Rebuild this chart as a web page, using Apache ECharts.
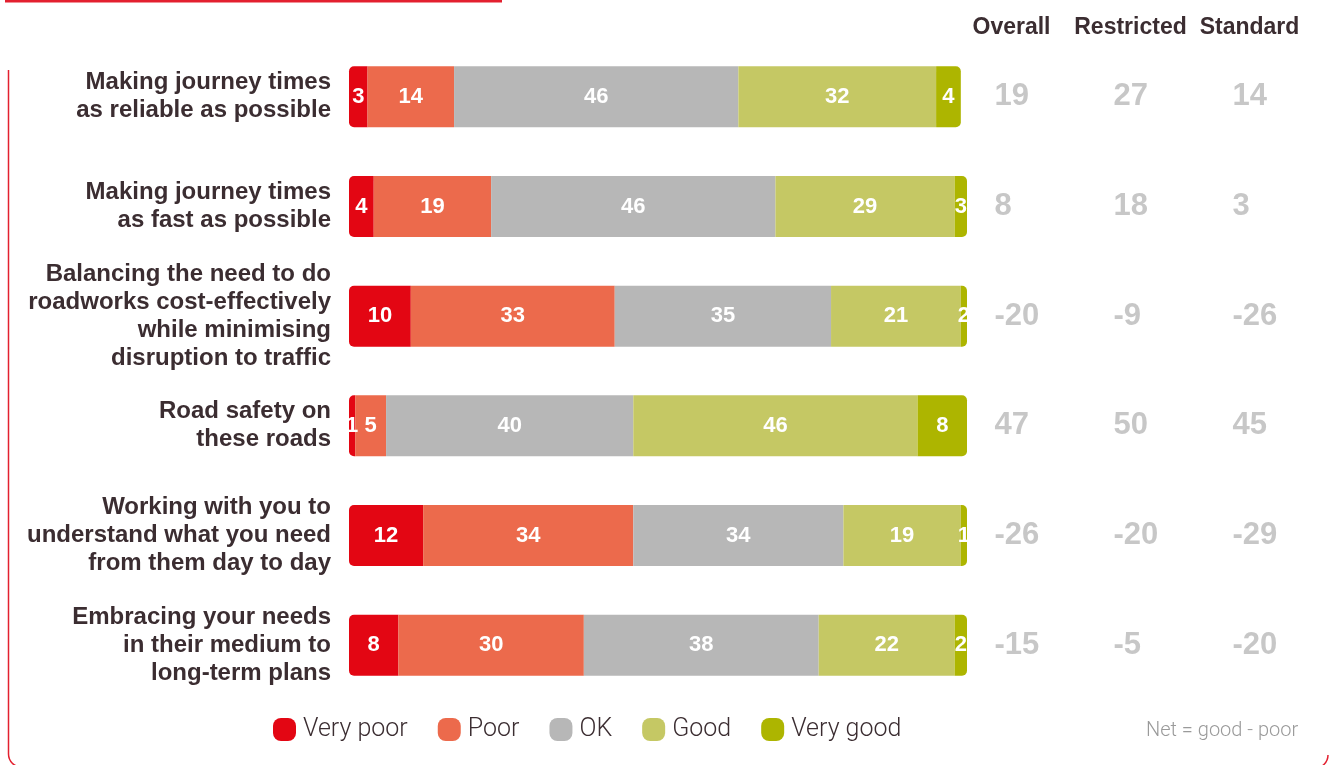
<!DOCTYPE html>
<html>
<head>
<meta charset="utf-8">
<script src="https://cdn.jsdelivr.net/npm/echarts@6/dist/echarts.min.js"></script>
<style>
  html, body { margin: 0; padding: 0; background: #ffffff; }
  #chart { width: 1330px; height: 765px; }
</style>
</head>
<body>
<div id="chart"></div>
<script>
// Survey statements (top to bottom)
const categories = [
  'Making journey times\nas reliable as possible',
  'Making journey times\nas fast as possible',
  'Balancing the need to do\nroadworks cost-effectively\nwhile minimising\ndisruption to traffic',
  'Road safety on\nthese roads',
  'Working with you to\nunderstand what you need\nfrom them day to day',
  'Embracing your needs\nin their medium to\nlong-term plans'
];

// Rating shares (%) per statement
const veryPoor = [3, 4, 10, 1, 12, 8];
const poor     = [14, 19, 33, 5, 34, 30];
const ok       = [46, 46, 35, 40, 34, 38];
const good     = [32, 29, 21, 46, 19, 22];
const veryGood = [4, 3, 2, 8, 1, 2];

// Net scores (good - poor) by user group
const netGroups   = ['Overall', 'Restricted', 'Standard'];
const netOverall    = [19, 8, -20, 47, -26, -15];
const netRestricted = [27, 18, -9, 50, -20, -5];
const netStandard   = [14, 3, -26, 45, -29, -20];

const ratingNames  = ['Very poor', 'Poor', 'OK', 'Good', 'Very good'];
const ratingData   = [veryPoor, poor, ok, good, veryGood];
const ratingColors = ['#e30613', '#ec6a4c', '#b7b7b7', '#c5c864', '#adb500'];

const DARK = '#3b2d31';
const FRAME = '#e3202f';
const BOLD = '"Liberation Sans", Arial, Helvetica, sans-serif';
const LIGHT = 'Roboto, "Liberation Sans", sans-serif';

const barSeries = ratingNames.map((name, i) => ({
  name,
  type: 'bar',
  stack: 'rating',
  xAxisIndex: 0,
  yAxisIndex: 0,
  barWidth: 61,
  itemStyle: {
    color: ratingColors[i],
    borderRadius: i === 0 ? [5, 0, 0, 5] : (i === ratingNames.length - 1 ? [0, 5, 5, 0] : 0)
  },
  label: {
    show: true,
    position: 'inside',
    color: '#ffffff',
    fontFamily: BOLD,
    fontWeight: 'bold',
    fontSize: 22
  },
  emphasis: { disabled: true },
  data: ratingData[i]
}));

const netData = [netOverall, netRestricted, netStandard];
const netSeries = netGroups.map((g, gi) => ({
  name: 'net-' + g,
  type: 'scatter',
  xAxisIndex: 1,
  yAxisIndex: 1,
  symbolSize: 0,
  silent: true,
  label: {
    show: true,
    position: 'inside',
    align: 'left',
    offset: [-17, 0],
    color: '#b9b9b9',
    fontFamily: BOLD,
    fontWeight: 'bold',
    fontSize: 31,
    formatter: p => String(p.value[2])
  },
  data: categories.map((c, ri) => [g, c, netData[gi][ri]])
}));

const legendIcon = 'path://M8,0 H15 A8,8 0 0 1 23,8 V15 A8,8 0 0 1 15,23 H8 A8,8 0 0 1 0,15 V8 A8,8 0 0 1 8,0 Z';

const option = {
  backgroundColor: '#ffffff',
  animation: false,
  grid: [
    { left: 349, width: 618, top: 42, height: 658 },
    { left: 952, width: 357, top: 42, height: 658 }
  ],
  xAxis: [
    { type: 'value', gridIndex: 0, min: 0, max: 100, show: false },
    {
      type: 'category', gridIndex: 1, position: 'top', data: netGroups,
      axisLine: { show: false }, axisTick: { show: false }, splitLine: { show: false },
      axisLabel: { interval: 0, color: DARK, fontFamily: BOLD, fontWeight: 'bold', fontSize: 23, margin: 3 }
    }
  ],
  yAxis: [
    {
      type: 'category', gridIndex: 0, inverse: true, data: categories,
      axisLine: { show: false }, axisTick: { show: false },
      axisLabel: {
        interval: 0,
        color: DARK, fontFamily: BOLD, fontWeight: 'bold', fontSize: 24,
        lineHeight: 28, align: 'right', margin: 18
      }
    },
    { type: 'category', gridIndex: 1, inverse: true, data: categories, show: false }
  ],
  legend: {
    data: ratingNames,
    left: 268,
    top: 712,
    icon: legendIcon,
    itemWidth: 23,
    itemHeight: 23,
    itemGap: 30,
    selectedMode: false,
    textStyle: { color: DARK, fontFamily: LIGHT, fontWeight: 300, fontSize: 25, padding: [0, 0, 0, 2] }
  },
  graphic: [
    { type: 'rect', shape: { x: 5, y: 0, width: 497, height: 2.5 }, style: { fill: FRAME }, silent: true },
    { type: 'line', silent: true, shape: { x1: 8.5, y1: 70, x2: 8.5, y2: 754 }, style: { stroke: FRAME, lineWidth: 1.5 } },
    { type: 'arc', silent: true, shape: { cx: 21.5, cy: 754, r: 13, startAngle: Math.PI / 2, endAngle: Math.PI, clockwise: true }, style: { stroke: FRAME, lineWidth: 1.5, fill: 'none' } },
    { type: 'arc', silent: true, shape: { cx: 1315, cy: 755, r: 13, startAngle: 0, endAngle: Math.PI / 2, clockwise: true }, style: { stroke: FRAME, lineWidth: 1.5, fill: 'none' } },
    {
      type: 'text', left: 1146, top: 721, silent: true,
      style: { text: 'Net = good - poor', fill: '#9a9a9a', font: '300 20px ' + LIGHT }
    }
  ],
  series: [...barSeries, ...netSeries]
};

echarts.init(document.getElementById('chart'), null, { renderer: 'canvas' }).setOption(option);
</script>
</body>
</html>
